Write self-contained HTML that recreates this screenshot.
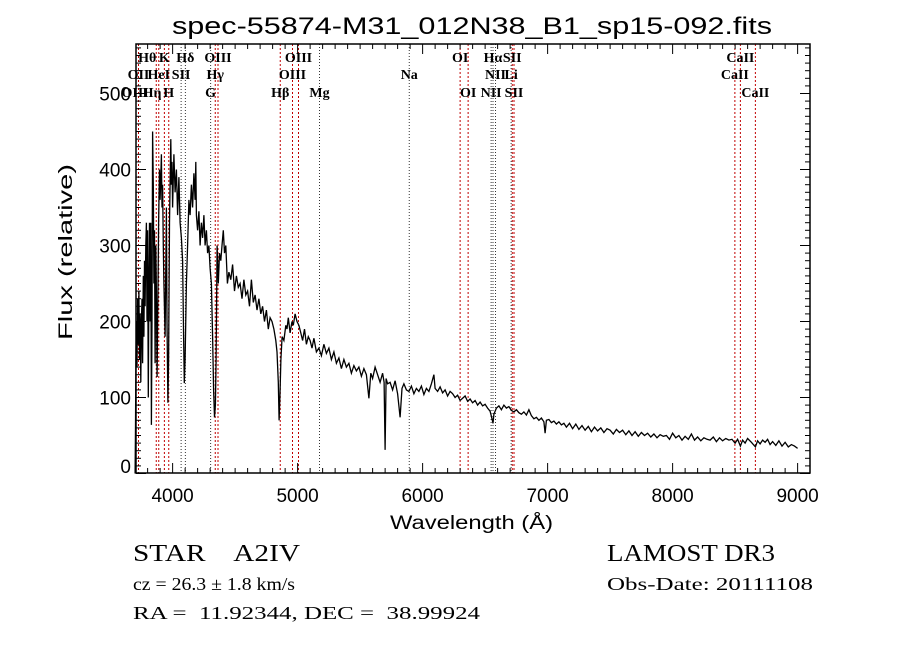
<!DOCTYPE html>
<html><head><meta charset="utf-8"><style>
html,body{margin:0;padding:0;background:#fff;}
svg{display:block;}
text{font-family:"Liberation Serif",serif;fill:#000;white-space:pre;}
.sans{font-family:"Liberation Sans",sans-serif;}
</style></head>
<body>
<svg id="chart" width="900" height="649" viewBox="0 0 900 649" xmlns="http://www.w3.org/2000/svg" xml:space="preserve">
<rect width="900" height="649" fill="#fff"/>
<text class="sans" x="172" y="34" font-size="24" textLength="600" lengthAdjust="spacingAndGlyphs">spec-55874-M31_012N38_B1_sp15-092.fits</text>
<g id="lines"></g>
<g id="linelabels"></g>
<path id="spec" fill="none" stroke="#000" stroke-width="1.3"/>
<rect x="136" y="44" width="674" height="429" fill="none" stroke="#000" stroke-width="1.5"/>
<g id="ticks"></g>
<text class="sans" x="390" y="529" font-size="19" textLength="163" lengthAdjust="spacingAndGlyphs">Wavelength (Å)</text>
<text class="sans" transform="translate(72,340) rotate(-90)" font-size="19" textLength="176" lengthAdjust="spacingAndGlyphs">Flux (relative)</text>
<text x="133" y="561" font-size="24" textLength="167" lengthAdjust="spacingAndGlyphs">STAR    A2IV</text>
<text x="607" y="561" font-size="24" textLength="168" lengthAdjust="spacingAndGlyphs">LAMOST DR3</text>
<text x="133" y="590" font-size="18" textLength="162" lengthAdjust="spacingAndGlyphs">cz = 26.3 ± 1.8 km/s</text>
<text x="607" y="590" font-size="18" textLength="206" lengthAdjust="spacingAndGlyphs">Obs-Date: 20111108</text>
<text x="133" y="619" font-size="18" textLength="347" lengthAdjust="spacingAndGlyphs">RA =  11.92344, DEC =  38.99924</text>
</svg>
<script>
const wavelengths = [3700,3703,3706,3710,3715,3720,3725,3730,3735,3740,3745,3750,3755,3760,3765,3770,3775,3780,3785,3790,3795,3800,3805,3810,3815,3820,3825,3830,3835,3840,3845,3850,3855,3860,3865,3870,3876,3882,3888,3895,3900,3905,3910,3915,3920,3925,3930,3940,3950,3955,3962,3968,3975,3985,3990,3995,4000,4010,4020,4030,4040,4050,4060,4070,4080,4088,4093,4100,4110,4120,4130,4140,4150,4160,4170,4180,4185,4190,4200,4210,4220,4230,4240,4250,4260,4270,4280,4290,4300,4310,4320,4328,4335,4342,4348,4356,4365,4375,4385,4395,4405,4415,4425,4438,4450,4465,4480,4495,4510,4525,4540,4555,4570,4585,4600,4615,4630,4645,4660,4675,4690,4705,4720,4735,4750,4765,4780,4795,4810,4825,4835,4845,4852,4858,4866,4876,4890,4905,4915,4925,4940,4955,4965,4980,4995,5010,5025,5040,5055,5070,5085,5100,5115,5130,5150,5170,5190,5210,5230,5250,5270,5290,5310,5330,5350,5370,5390,5410,5430,5450,5470,5490,5510,5530,5550,5570,5585,5600,5620,5640,5660,5680,5692,5700,5708,5720,5740,5760,5780,5800,5820,5835,5850,5870,5890,5910,5930,5950,5970,5990,6010,6030,6050,6070,6090,6100,6120,6140,6160,6180,6200,6220,6240,6260,6280,6300,6320,6340,6360,6380,6400,6420,6440,6460,6480,6500,6520,6540,6555,6563,6570,6590,6610,6630,6650,6670,6690,6710,6730,6750,6770,6790,6810,6830,6850,6870,6890,6910,6930,6950,6970,6980,6990,7010,7030,7050,7070,7090,7110,7130,7150,7175,7200,7225,7250,7275,7300,7325,7350,7375,7400,7425,7450,7475,7500,7525,7550,7575,7600,7625,7650,7675,7700,7725,7750,7775,7800,7825,7850,7875,7900,7925,7950,7975,8000,8025,8050,8075,8100,8125,8150,8175,8200,8225,8250,8275,8300,8325,8350,8375,8400,8425,8450,8475,8500,8520,8542,8560,8580,8600,8630,8662,8680,8700,8720,8740,8760,8780,8800,8825,8850,8875,8900,8925,8950,8975,9000];
const fluxes = [0,60,150,200,140,230,170,240,150,210,120,200,230,145,260,180,280,220,300,330,200,320,100,250,330,200,330,64,200,450,380,250,320,145,300,240,127,230,330,400,360,390,420,350,380,300,250,180,350,200,93,150,330,440,380,410,350,420,370,400,340,390,330,310,280,180,119,150,250,300,360,340,380,350,395,360,410,340,320,345,300,330,310,340,300,320,290,300,270,250,180,110,74,90,150,300,250,290,280,300,320,290,300,250,265,255,275,240,260,245,250,230,255,235,240,220,255,225,235,215,230,210,220,200,215,190,205,200,190,175,160,120,70,100,150,180,175,195,190,205,185,200,195,210,200,195,185,175,190,170,180,175,165,178,160,165,155,170,158,165,150,160,145,152,138,150,140,145,132,142,135,140,128,138,130,99,132,125,140,130,120,132,120,31,125,118,120,110,122,105,74,112,118,110,108,115,105,112,108,115,104,112,108,118,130,112,108,114,106,110,102,108,105,100,103,96,99,102,95,98,93,96,90,94,89,91,86,82,72,66,78,86,89,84,90,86,88,83,81,84,80,78,81,77,84,76,72,74,70,73,68,53,70,71,67,69,65,68,64,66,
61,66,59,65,58,63,57,62,55,61,56,60,54,59,57,52,58,54,57,51,56,50,55,49,54,50,53,48,52,47,51,49,50,45,53,47,50,44,49,45,52,44,48,43,47,45,44,48,42,47,43,46,44,45,40,
45,36,44,40,46,41,35,43,39,44,41,45,38,42,37,43,36,41,35,38,36,33];
const xTickLabels = [4000,5000,6000,7000,8000,9000];
const yTickLabels = [0,100,200,300,400,500];
const redLines = [3727,3869,3889,3934,3969,4341,4363,4861,4959,5007,6300,6364,6717,6731,8498,8542,8662];
const blackLines = [4068,4102,4304,5175,5893,6548,6563,6583,6708];
const lineLabelText = ["Hθ","K","Hδ","OIII","OIII","OI","Hα","SII","CaII","OII","HeI","SII","Hγ","OIII","Na","NII","Li","CaII","OIII","Hη","H","G","Hβ","Mg","OI","NII","SII","CaII"];
const lineLabelWave = [3797,3934,4102,4363,5007,6300,6563,6717,8542,3727,3889,4068,4341,4959,5893,6583,6708,8498,3700,3835,3969,4304,4861,5175,6364,6548,6731,8662];
const lineLabelRow = [0,0,0,0,0,0,0,0,0,1,1,1,1,1,1,1,1,1,2,2,2,2,2,2,2,2,2,2];

const X0=136,X1=810,Y0=473,Y1=44,WMIN=3707,WMAX=3707+674/0.125,FMIN=0,FMAX=(473.5-44)/0.76;
function xs(w){return X0+(w-WMIN)/(WMAX-WMIN)*(X1-X0);}
function ys(v){return 473.5-(v-FMIN)/(FMAX-FMIN)*(473.5-Y1);}
const NS="http://www.w3.org/2000/svg";
function mk(tag,attrs,parent){const e=document.createElementNS(NS,tag);for(const k in attrs)e.setAttribute(k,attrs[k]);parent.appendChild(e);return e;}

let d="";
const n=Math.min(wavelengths.length,fluxes.length);
for(let i=0;i<n;i++){d+=(i?"L":"M")+xs(wavelengths[i]).toFixed(1)+" "+ys(fluxes[i]).toFixed(1);}
document.getElementById("spec").setAttribute("d",d);

const lg=document.getElementById("lines");
redLines.forEach(w=>{const l=mk("line",{x1:xs(w),x2:xs(w),y1:Y1,y2:Y0,stroke:"#c00000","stroke-width":1,"stroke-dasharray":"2,2"},lg);

});
blackLines.forEach(w=>{const l=mk("line",{x1:xs(w),x2:xs(w),y1:Y1,y2:Y0,stroke:"#333","stroke-width":1,"stroke-dasharray":"1,2"},lg);

});
const ll=document.getElementById("linelabels");
const rowY=[62,79,97];
lineLabelText.forEach((t,i)=>{const e=mk("text",{x:xs(lineLabelWave[i]),y:rowY[lineLabelRow[i]],"font-size":14,"font-weight":"bold","text-anchor":"middle"},ll);
e.textContent=t;

});

const tg=document.getElementById("ticks");
for(let w=3800;w<=9000;w+=100){const maj=w%1000===0;const L=maj?10:5;
mk("line",{x1:xs(w),x2:xs(w),y1:Y0,y2:Y0-L,stroke:"#000"},tg);
mk("line",{x1:xs(w),x2:xs(w),y1:Y1,y2:Y1+L,stroke:"#000"},tg);}
for(let v=0;v<=560;v+=10){const maj=v%100===0;const L=maj?10:5;
mk("line",{x1:X0,x2:X0+L,y1:ys(v),y2:ys(v),stroke:"#000"},tg);
mk("line",{x1:X1,x2:X1-L,y1:ys(v),y2:ys(v),stroke:"#000"},tg);}
xTickLabels.forEach(w=>{const e=mk("text",{x:xs(w),y:502,"font-size":19,"text-anchor":"middle",class:"sans"},tg);
e.textContent=w;

});
yTickLabels.forEach(v=>{const e=mk("text",{x:131,y:Math.min(ys(v)+7,473),"font-size":19,"text-anchor":"end",class:"sans"},tg);
e.textContent=v;

});
</script>
</body></html>
